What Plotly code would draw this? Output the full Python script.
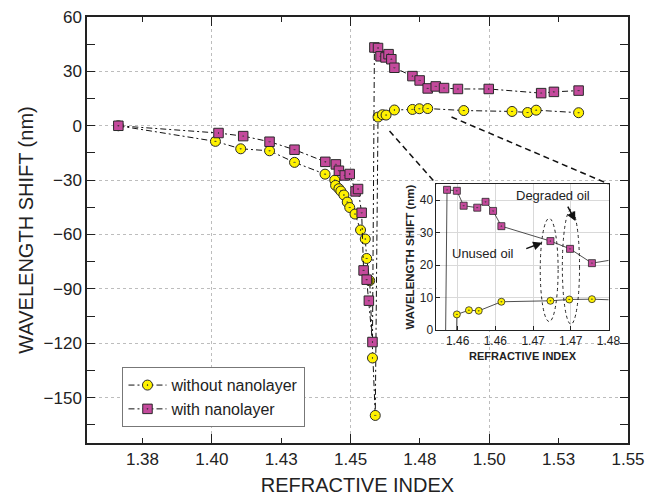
import plotly.graph_objects as go

# ---------------- data ----------------
ri_without = [1.3663, 1.4013, 1.4104, 1.4208, 1.4298, 1.4408, 1.4443, 1.4446, 1.4458, 1.4465,
              1.4476, 1.4488, 1.4497, 1.4516, 1.4536, 1.4553, 1.4558, 1.4569, 1.4579, 1.4589,
              1.4599, 1.4615, 1.4628, 1.4658, 1.4723, 1.4748, 1.4778, 1.4908, 1.5082, 1.5138,
              1.5169, 1.5322]
shift_without = [0, -8.6, -12.7, -13.8, -20.2, -26.7, -30.0, -32.9, -34.7, -36.0,
                 -38.2, -42.1, -45.1, -48.7, -57.5, -62.5, -73.2, -85.5, -128.1, -159.8,
                 4.8, 6.1, 5.9, 8.7, 9.0, 9.4, 9.5, 8.4, 7.9, 7.3,
                 8.6, 7.2]

ri_with = [1.3663, 1.4024, 1.4113, 1.4208, 1.4298, 1.4409, 1.4447, 1.4458, 1.4479, 1.4497,
           1.4518, 1.4527, 1.4540, 1.4547, 1.4558, 1.4566, 1.4579, 1.4586, 1.4599, 1.4608,
           1.4626, 1.4637, 1.4647, 1.4658, 1.4723, 1.4749, 1.4778, 1.4807, 1.4837, 1.4887,
           1.4998, 1.5187, 1.5233, 1.5322]
shift_with = [0, -4.0, -5.7, -8.8, -13.2, -19.9, -21.3, -24.8, -27.4, -26.6,
              -36.2, -34.9, -48.0, -79.8, -84.9, -96.5, -119.3, 43.2, 42.9, 38.3,
              37.7, 39.5, 36.7, 32.0, 27.4, 25.0, 20.6, 21.7, 20.8, 20.3,
              20.3, 18.0, 18.7, 19.4]

x_tickvals = [1.375, 1.400, 1.425, 1.450, 1.475, 1.500, 1.525, 1.550]
x_ticktext = ["1.38", "1.40", "1.43", "1.45", "1.48", "1.50", "1.53", "1.55"]
x_gridvals = [1.40, 1.45, 1.50]
y_tickvals = [-150, -120, -90, -60, -30, 0, 30, 60]
y_minorvals = [-165, -135, -105, -75, -45, -15, 15, 45]

inset_x_tickvals = [1.46, 1.465, 1.47, 1.475, 1.48]
inset_x_ticktext = ["1.46", "1.46", "1.47", "1.47", "1.48"]
inset_y_tickvals = [0, 10, 20, 30, 40]

# ---------------- styles ----------------
FONT = "Liberation Sans, Arial, Helvetica, sans-serif"
YELLOW = "#FFF200"
MAGENTA = "#C44A9C"
EDGE = "#2a2a2a"
DASHDOT = "6px,3px,2px,3px"

fig = go.Figure()

fig.add_trace(go.Scatter(
    x=ri_without, y=shift_without, name="without nanolayer", mode="lines+markers",
    line=dict(color="#111", width=1, dash=DASHDOT),
    marker=dict(symbol="circle-dot", size=10, color=YELLOW, line=dict(color=EDGE, width=1)),
    xaxis="x", yaxis="y"))
fig.add_trace(go.Scatter(
    x=ri_with, y=shift_with, name="with nanolayer", mode="lines+markers",
    line=dict(color="#111", width=1, dash=DASHDOT),
    marker=dict(symbol="square-dot", size=9.5, color=MAGENTA, line=dict(color=EDGE, width=1)),
    xaxis="x", yaxis="y"))

# helper overlay axis for the long ticks + grid at 1.40/1.45/1.50
fig.add_trace(go.Scatter(x=[], y=[], xaxis="x3", yaxis="y", showlegend=False, hoverinfo="skip"))

# inset traces
fig.add_trace(go.Scatter(
    x=ri_without, y=shift_without, mode="lines+markers", showlegend=False,
    line=dict(color="#222", width=0.8),
    marker=dict(symbol="circle-dot", size=7, color=YELLOW, line=dict(color=EDGE, width=0.8)),
    xaxis="x2", yaxis="y2"))
fig.add_trace(go.Scatter(
    x=ri_with, y=shift_with, mode="lines+markers", showlegend=False,
    line=dict(color="#222", width=0.8),
    marker=dict(symbol="square-dot", size=7, color=MAGENTA, line=dict(color=EDGE, width=0.8)),
    xaxis="x2", yaxis="y2"))

X_RANGE = [1.355, 1.55]
Y_RANGE = [-175, 60]

fig.update_layout(
    width=659, height=498,
    margin=dict(l=87, r=31, t=17, b=55),
    paper_bgcolor="white", plot_bgcolor="white",
    font=dict(family=FONT, color="#222"),
    showlegend=True,
    legend=dict(x=0.0656, y=0.178, xanchor="left", yanchor="top",
                bgcolor="white", bordercolor="#777", borderwidth=1,
                font=dict(size=16, family=FONT, color="#222"),
                tracegroupgap=0, itemwidth=38),
    xaxis=dict(range=X_RANGE, tickmode="array", tickvals=x_tickvals, ticktext=x_ticktext,
               ticks="inside", ticklen=5, tickcolor="#222", showgrid=False, zeroline=False,
               showline=True, linecolor="#222", linewidth=1.5, mirror="allticks",
               tickfont=dict(size=17, family=FONT, color="#222"), automargin=False,
               title=dict(text="REFRACTIVE INDEX", font=dict(size=20, family=FONT, color="#222"),
                          standoff=10),
               anchor="y"),
    xaxis3=dict(range=X_RANGE, overlaying="x", anchor="y", tickmode="array", tickvals=x_gridvals,
                ticks="inside", ticklen=9, tickcolor="#222", showticklabels=False,
                showgrid=True, gridcolor="#bdbdbd", griddash="dot", gridwidth=1,
                zeroline=False, showline=False, mirror="allticks", automargin=False),
    yaxis=dict(range=Y_RANGE, tickmode="array", tickvals=y_tickvals,
               ticks="inside", ticklen=8, tickcolor="#222",
               minor=dict(tickmode="array", tickvals=y_minorvals, ticks="inside", ticklen=5,
                          tickcolor="#222", showgrid=False),
               showgrid=True, gridcolor="#bdbdbd", griddash="dot", gridwidth=1, zeroline=False,
               showline=True, linecolor="#222", linewidth=1.5, mirror="allticks",
               tickfont=dict(size=17, family=FONT, color="#222"), automargin=False,
               title=dict(text="WAVELENGTH SHIFT (nm)", font=dict(size=20, family=FONT, color="#222"),
                          standoff=5),
               anchor="x"),
    xaxis2=dict(domain=[0.646, 0.964], anchor="y2", range=[1.4572, 1.48],
                tickmode="array", tickvals=inset_x_tickvals, ticktext=inset_x_ticktext,
                ticks="inside", ticklen=4, tickcolor="#222",
                showgrid=True, gridcolor="#d9d9d9", gridwidth=1, zeroline=False,
                showline=True, linecolor="#222", linewidth=1, mirror=True, automargin=False,
                tickfont=dict(size=12, family=FONT, color="#222"),
                title=dict(text="<b>REFRACTIVE INDEX</b>", font=dict(size=11, family=FONT, color="#222"),
                           standoff=4)),
    yaxis2=dict(domain=[0.2653, 0.608], anchor="x2", range=[0, 45],
                tickmode="array", tickvals=inset_y_tickvals,
                ticks="inside", ticklen=4, tickcolor="#222",
                showgrid=True, gridcolor="#d9d9d9", gridwidth=1, zeroline=False,
                showline=True, linecolor="#222", linewidth=1, mirror=True, automargin=False,
                tickfont=dict(size=12, family=FONT, color="#222"),
                title=dict(text="<b>WAVELENGTH SHIFT (nm)</b>", font=dict(size=11.5, family=FONT, color="#222"),
                           standoff=2)),
)

# zoom connector lines (paper coordinates)
fig.add_shape(type="line", xref="paper", yref="paper", x0=0.5592, y0=0.7324, x1=0.646, y1=0.608,
              line=dict(color="#111", width=1.5, dash="6px,4px"))
fig.add_shape(type="line", xref="paper", yref="paper", x0=0.6738, y0=0.7653, x1=0.964, y1=0.608,
              line=dict(color="#111", width=1.5, dash="6px,4px"))

# ellipses in inset
fig.add_shape(type="circle", xref="x2", yref="y2", x0=1.47095, x1=1.47332, y0=2.6, y1=34.4,
              line=dict(color="#222", width=1, dash="dot"))
fig.add_shape(type="circle", xref="x2", yref="y2", x0=1.47388, x1=1.47616, y0=1.8, y1=37.1,
              line=dict(color="#222", width=1, dash="dot"))

# annotations in inset
fig.add_annotation(xref="x2", yref="y2", x=1.4633, y=23.6, text="Unused oil", showarrow=False,
                   font=dict(size=13, family=FONT, color="#222"))
fig.add_annotation(xref="x2", yref="y2", x=1.4726, y=41.6, text="Degraded oil", showarrow=False,
                   font=dict(size=13, family=FONT, color="#222"))
fig.add_annotation(xref="x2", yref="y2", axref="x2", ayref="y2",
                   x=1.4712, y=26.9, ax=1.4689, ay=24.9, text="", showarrow=True,
                   arrowhead=2, arrowsize=1.2, arrowwidth=1.5, arrowcolor="#111")
fig.add_annotation(xref="x2", yref="y2", axref="x2", ayref="y2",
                   x=1.4756, y=33.6, ax=1.4745, ay=38.5, text="", showarrow=True,
                   arrowhead=2, arrowsize=1.2, arrowwidth=1.5, arrowcolor="#111")

fig.write_html("out.html", config={"displayModeBar": False},
               post_script="document.body.style.margin='0';")
